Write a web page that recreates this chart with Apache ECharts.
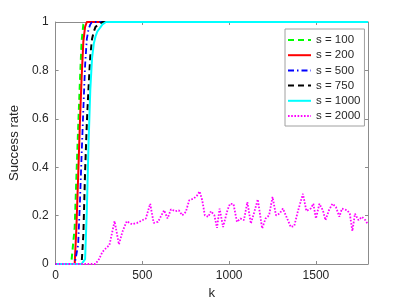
<!DOCTYPE html>
<html><head><meta charset="utf-8">
<script src="https://cdn.jsdelivr.net/npm/echarts@6/dist/echarts.min.js"></script>
<style>html,body{margin:0;padding:0;background:#fff}#c{width:407px;height:305px}</style>
</head><body><div id="c"></div>
<script>
// Shared k grid for the fast-rising curves
const kRise = [0, 90, 100, 110, 120, 130, 140, 150, 160, 170, 180, 190, 200, 210, 220, 230, 240, 250, 260, 270, 280, 290, 300, 1800];
const s100  = [0, 0, 0, 0.15, 0.36, 0.56, 0.75, 0.92, 0.99, 1, 1, 1, 1, 1, 1, 1, 1, 1, 1, 1, 1, 1, 1, 1];
const s200  = [0, 0, 0, 0, 0.15, 0.36, 0.58, 0.77, 0.92, 0.98, 1, 1, 1, 1, 1, 1, 1, 1, 1, 1, 1, 1, 1, 1];
const s500  = [0, 0, 0, 0, 0, 0.08, 0.25, 0.45, 0.64, 0.82, 0.93, 0.97, 0.99, 1, 1, 1, 1, 1, 1, 1, 1, 1, 1, 1];
const s750  = [0, 0, 0, 0, 0, 0, 0, 0, 0.12, 0.38, 0.58, 0.73, 0.86, 0.93, 0.96, 0.98, 0.985, 0.99, 0.995, 1, 1, 1, 1, 1];
const s1000 = [0, 0, 0, 0, 0, 0, 0, 0, 0, 0.02, 0.22, 0.5, 0.72, 0.85, 0.91, 0.94, 0.96, 0.97, 0.98, 0.99, 0.995, 1, 1, 1];

// s = 2000 curve
const kS2000 = [0, 230, 250, 270, 290, 310, 340, 365, 385, 410, 440, 470, 500, 520, 545, 565, 590, 625, 645, 665, 690, 710, 730, 750, 770, 795, 815, 830, 845, 860, 880, 895, 915, 930, 945, 965, 990, 1005, 1025, 1045, 1065, 1085, 1105, 1125, 1145, 1165, 1190, 1210, 1230, 1250, 1270, 1290, 1310, 1330, 1355, 1375, 1395, 1425, 1445, 1470, 1485, 1500, 1520, 1540, 1555, 1575, 1595, 1615, 1635, 1650, 1680, 1695, 1710, 1725, 1745, 1765, 1785, 1800];
const s2000 = [0, 0, 0.02, 0.05, 0.065, 0.078, 0.177, 0.081, 0.133, 0.177, 0.164, 0.17, 0.181, 0.188, 0.249, 0.17, 0.174, 0.222, 0.188, 0.226, 0.218, 0.222, 0.201, 0.215, 0.263, 0.27, 0.283, 0.3, 0.263, 0.201, 0.195, 0.218, 0.201, 0.149, 0.229, 0.153, 0.222, 0.249, 0.248, 0.174, 0.188, 0.181, 0.256, 0.167, 0.215, 0.267, 0.147, 0.188, 0.201, 0.277, 0.201, 0.208, 0.229, 0.195, 0.153, 0.157, 0.215, 0.29, 0.219, 0.229, 0.249, 0.188, 0.249, 0.222, 0.181, 0.222, 0.249, 0.236, 0.195, 0.229, 0.222, 0.208, 0.136, 0.208, 0.181, 0.195, 0.181, 0.163];

const legendNames = ['s = 100', 's = 200', 's = 500', 's = 750', 's = 1000', 's = 2000'];
const xTicks = { min: 0, max: 1800, interval: 500 };
const yTicks = { min: 0, max: 1, interval: 0.2 };

const pair = (ks, vs) => ks.map((k, i) => [k, vs[i]]);
const font = 'Liberation Sans, Arial, Helvetica, sans-serif';
const axisCol = '#8c8c8c';
const txtCol = '#262626';

const styles = [
  { data: pair(kRise, s100),  color: '#00ff00', width: 2,   type: [6, 4] },
  { data: pair(kRise, s200),  color: '#ff0000', width: 2,   type: 'solid' },
  { data: pair(kRise, s500),  color: '#0000ff', width: 1.8, type: [6, 3, 1.5, 3] },
  { data: pair(kRise, s750),  color: '#000000', width: 2,   type: [6, 4] },
  { data: pair(kRise, s1000), color: '#00ffff', width: 2,   type: 'solid' },
  { data: pair(kS2000, s2000), color: '#ff00ff', width: 1.8, type: [1.6, 1.6] }
];

const chart = echarts.init(document.getElementById('c'), null, { renderer: 'canvas' });
chart.setOption({
  animation: false,
  backgroundColor: '#fff',
  grid: { left: 53, right: 39, top: 22, bottom: 39, containLabel: false },
  legend: {
    orient: 'vertical', left: 285, top: 29,
    data: legendNames,
    backgroundColor: '#fff', borderColor: '#a0a0a0', borderWidth: 1,
    padding: [5, 4, 4, 2], itemWidth: 23, itemHeight: 13, itemGap: 3.2, itemTextGap: 3,
    itemStyle: { opacity: 0 },
    textStyle: { fontFamily: font, fontSize: 11.5, color: txtCol }
  },
  xAxis: [{
    type: 'value', min: xTicks.min, max: xTicks.max, interval: xTicks.interval,
    name: 'k', nameLocation: 'middle', nameGap: 23,
    nameTextStyle: { fontFamily: font, fontSize: 13.2, color: txtCol },
    axisLine: { show: true, lineStyle: { color: axisCol, width: 1 } },
    axisTick: { show: true, inside: true, length: 3, lineStyle: { color: axisCol } },
    axisLabel: { fontFamily: font, fontSize: 12, color: txtCol, margin: 6, showMaxLabel: false,
                 formatter: v => String(v) },
    splitLine: { show: false }
  }, {
    type: 'value', position: 'top', min: xTicks.min, max: xTicks.max, interval: xTicks.interval,
    axisLine: { show: true, onZero: false, lineStyle: { color: axisCol, width: 1 } },
    axisTick: { show: true, inside: true, length: 3, lineStyle: { color: axisCol } },
    axisLabel: { show: false }, splitLine: { show: false }
  }],
  yAxis: [{
    type: 'value', min: yTicks.min, max: yTicks.max, interval: yTicks.interval,
    name: 'Success rate', nameLocation: 'middle', nameGap: 24,
    nameTextStyle: { fontFamily: font, fontSize: 13.2, color: txtCol },
    axisLine: { show: true, lineStyle: { color: axisCol, width: 1 } },
    axisTick: { show: true, inside: true, length: 3, lineStyle: { color: axisCol } },
    axisLabel: { fontFamily: font, fontSize: 12, color: txtCol, margin: 7 },
    splitLine: { show: false }
  }, {
    type: 'value', position: 'right', min: yTicks.min, max: yTicks.max, interval: yTicks.interval,
    axisLine: { show: true, onZero: false, lineStyle: { color: axisCol, width: 1 } },
    axisTick: { show: true, inside: true, length: 3, lineStyle: { color: axisCol } },
    axisLabel: { show: false }, splitLine: { show: false }
  }],
  series: styles.map((s, i) => ({
    name: legendNames[i], type: 'line', data: s.data,
    xAxisIndex: 0, yAxisIndex: 0,
    showSymbol: false, symbol: 'none', smooth: false,
    lineStyle: { color: s.color, width: s.width, type: s.type },
    itemStyle: { color: s.color },
    clip: false
  }))
});
</script>
</body></html>
